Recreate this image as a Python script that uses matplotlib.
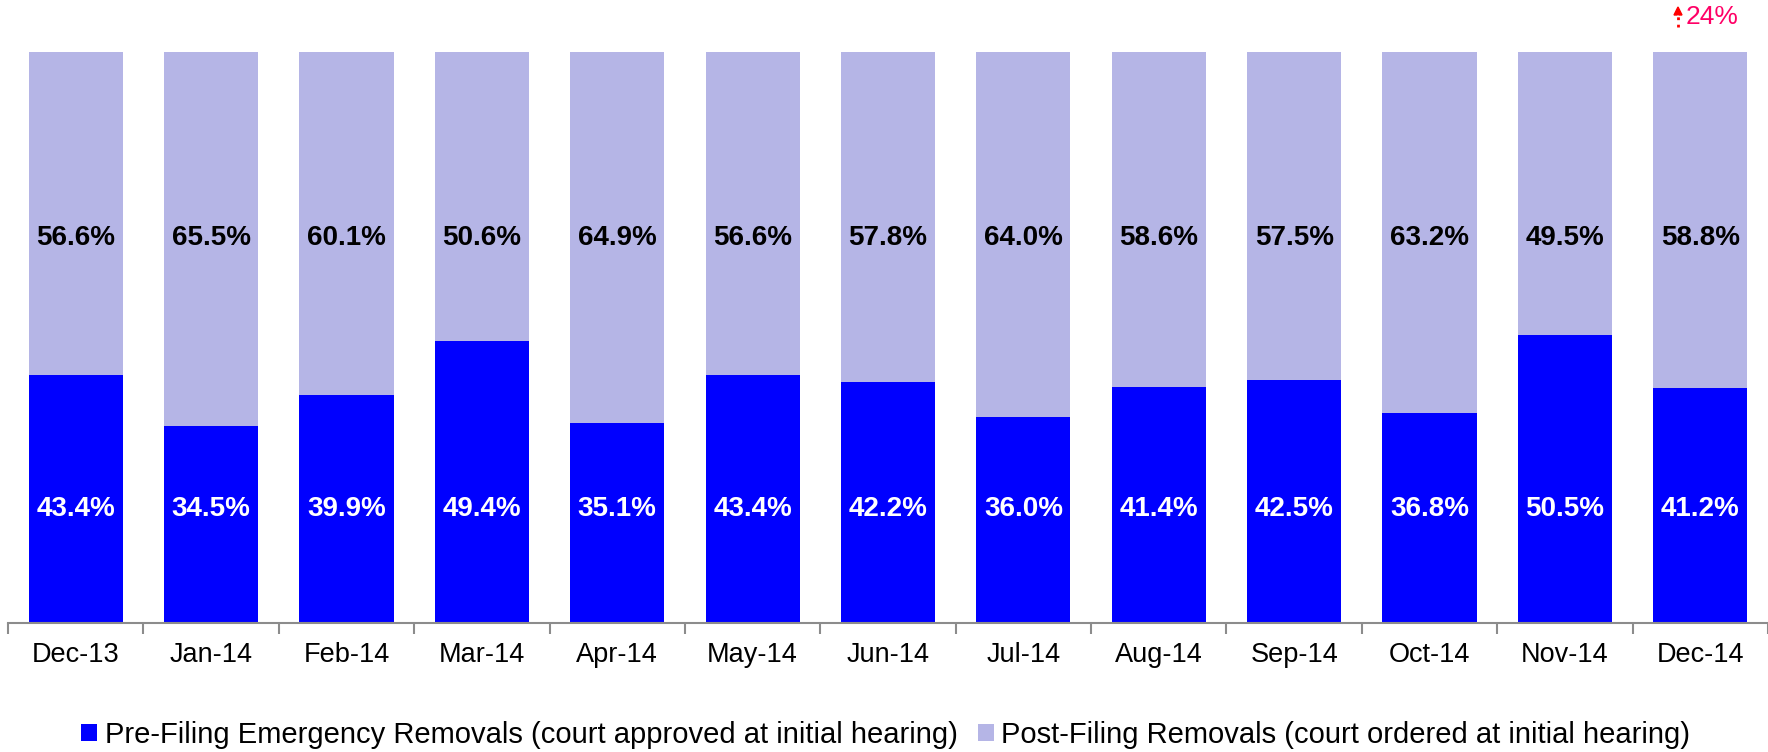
import matplotlib
matplotlib.use("Agg")
import matplotlib.pyplot as plt
import numpy as np
from matplotlib.patches import Patch

months = ["Dec-13", "Jan-14", "Feb-14", "Mar-14", "Apr-14", "May-14", "Jun-14",
          "Jul-14", "Aug-14", "Sep-14", "Oct-14", "Nov-14", "Dec-14"]
pre_filing = [43.4, 34.5, 39.9, 49.4, 35.1, 43.4, 42.2, 36.0, 41.4, 42.5, 36.8, 50.5, 41.2]
post_filing = [56.6, 65.5, 60.1, 50.6, 64.9, 56.6, 57.8, 64.0, 58.6, 57.5, 63.2, 49.5, 58.8]
legend_labels = ["Pre-Filing Emergency Removals (court approved at initial hearing)",
                 "Post-Filing Removals (court ordered at initial hearing)"]
note_text = "24%"

plt.rcParams['font.family'] = ['Liberation Sans', 'DejaVu Sans']

W, H = 1768, 752
fig = plt.figure(figsize=(W / 100, H / 100), dpi=100)
ax = fig.add_axes([8 / W, (H - 623) / H, (W - 8) / W, (623 - 52) / H])

pre_c = "#0000FF"
post_c = "#B5B5E6"
x = np.arange(len(months))
pre = np.array(pre_filing) / 100
post = np.array(post_filing) / 100
ax.bar(x, pre, width=0.695, color=pre_c, edgecolor="none")
ax.bar(x, post, width=0.695, bottom=pre, color=post_c, edgecolor="none")

for i in range(len(months)):
    ax.text(x[i], 0.2, f"{pre_filing[i]:.1f}%", ha="center", va="center",
            color="white", fontsize=20, fontweight="bold")
    ax.text(x[i], 0.674, f"{post_filing[i]:.1f}%", ha="center", va="center",
            color="black", fontsize=20, fontweight="bold")

ax.set_xlim(-0.5, len(months) - 0.5)
ax.set_ylim(0, 1)
for s in ["left", "right", "top"]:
    ax.spines[s].set_visible(False)
ax.spines["bottom"].set_color("#8c8c8c")
ax.spines["bottom"].set_linewidth(1.5)
ax.set_yticks([])
ax.set_xticks(x)
ax.set_xticklabels(months, fontsize=19.5)
ax.tick_params(axis="x", which="major", length=0, pad=14)
ax.set_xticks(np.arange(-0.5, len(months), 1.0), minor=True)
ax.tick_params(axis="x", which="minor", length=8, width=1.5, color="#8c8c8c", direction="out")

# annotation top-right
fig.text(1686 / W, 1 - 17 / H, note_text, ha="left", va="center", color="#FF0066", fontsize=19)
fig.add_artist(matplotlib.lines.Line2D([1678 / W, 1678 / W], [1 - 27 / H, 1 - 13 / H],
                                       color="red", linestyle=":", linewidth=2))
fig.add_artist(matplotlib.patches.FancyArrow(1678 / W, 1 - 15 / H, 0, 1e-6, width=0,
                                             head_width=8 / W, head_length=8 / H,
                                             color="red", length_includes_head=False))

handles = [Patch(facecolor=pre_c, edgecolor="none"), Patch(facecolor=post_c, edgecolor="none")]
fig.legend(handles, legend_labels, loc="center", bbox_to_anchor=(0.501, 17 / H), ncol=2,
           frameon=False, fontsize=21, handlelength=0.55, handleheight=0.55,
           handletextpad=0.25, columnspacing=0.7, borderpad=0)

fig.savefig("out.png", dpi=100)
